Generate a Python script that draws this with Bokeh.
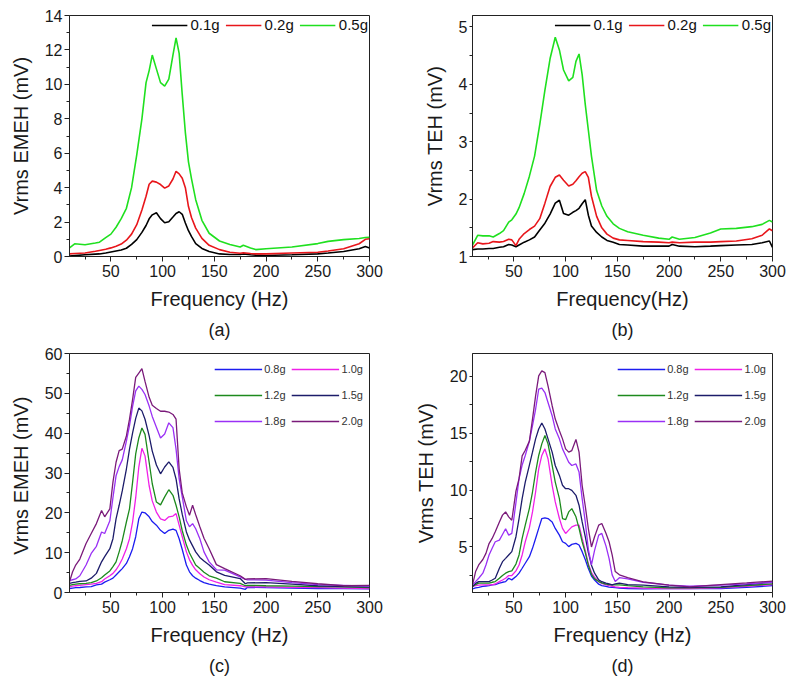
from bokeh.plotting import figure
from bokeh.layouts import column, row
from bokeh.models import FixedTicker, Range1d, Legend, LegendItem, Title
from bokeh.embed import file_html
from bokeh.resources import INLINE

FONT = "Liberation Sans"

# ---------------- data ----------------
x_ticks = [50, 100, 150, 200, 250, 300]
x_minor = [25, 75, 125, 175, 225, 275]

# (a) EMEH, low accelerations
freq_a = [10, 15, 25, 35, 39, 45, 50, 55, 60, 65, 70, 75, 80, 84, 87, 90, 94, 98, 102, 106,
          110, 113, 116, 119, 122, 125, 128, 132, 138, 145, 155, 165, 175, 178, 185, 190, 200,
          225, 250, 260, 275, 290, 296, 300]
emeh_01g = [0.02, 0.05, 0.1, 0.14, 0.15, 0.2, 0.26, 0.32, 0.38, 0.48, 0.7, 0.98, 1.4, 1.8, 2.19,
            2.42, 2.54, 2.2, 1.96, 2.02, 2.29, 2.5, 2.6, 2.45, 1.95, 1.5, 1.15, 0.75, 0.47, 0.29,
            0.15, 0.12, 0.12, 0.15, 0.1, 0.08, 0.06, 0.1, 0.15, 0.2, 0.29, 0.45, 0.58, 0.5]
emeh_02g = [0.15, 0.17, 0.2, 0.3, 0.35, 0.42, 0.5, 0.6, 0.72, 0.95, 1.3, 1.85, 2.7, 3.5, 4.2,
            4.38, 4.32, 4.18, 3.97, 4.1, 4.5, 4.95, 4.8, 4.55, 4.0, 2.9, 2.25, 1.65, 1.05, 0.65,
            0.4, 0.25, 0.19, 0.22, 0.17, 0.15, 0.15, 0.2, 0.25, 0.32, 0.45, 0.74, 1.0, 1.03]
emeh_05g = [0.5, 0.74, 0.68, 0.78, 0.83, 1.1, 1.3, 1.7, 2.2, 2.8, 4.0, 5.9, 8.0, 10.1, 10.8,
            11.7, 10.9, 10.1, 9.9, 10.3, 11.7, 12.7, 11.8, 9.4, 7.2, 5.5, 4.5, 3.3, 2.1, 1.35,
            0.9, 0.7, 0.55, 0.65, 0.5, 0.4, 0.45, 0.55, 0.75, 0.88, 0.98, 1.05, 1.1, 1.12]

# (b) TEH, low accelerations
freq_b = [10, 15, 20, 26, 30, 36, 40, 45, 48, 52, 55, 60, 65, 70, 75, 80, 85, 90, 94, 98, 103,
          107, 110, 113, 116, 119, 122, 125, 130, 135, 140, 146, 152, 160, 175, 190, 200, 203,
          210, 225, 240, 250, 265, 280, 290, 297, 300]
teh_01g = [1.12, 1.13, 1.13, 1.14, 1.14, 1.16, 1.17, 1.21, 1.2, 1.17, 1.2, 1.25, 1.29, 1.34,
           1.46, 1.58, 1.74, 1.93, 1.98, 1.75, 1.72, 1.77, 1.8, 1.84, 1.92, 1.99, 1.72, 1.53,
           1.42, 1.34, 1.28, 1.25, 1.21, 1.2, 1.18, 1.18, 1.18, 1.21, 1.18, 1.17, 1.18, 1.19,
           1.2, 1.21, 1.24, 1.27, 1.16]
teh_02g = [1.15, 1.24, 1.22, 1.23, 1.26, 1.25, 1.26, 1.3, 1.29, 1.19, 1.3, 1.4, 1.47, 1.53,
           1.66, 1.93, 2.22, 2.38, 2.42, 2.33, 2.23, 2.26, 2.32, 2.39, 2.45, 2.48, 2.38, 2.05,
           1.7, 1.5, 1.39, 1.32, 1.29, 1.28, 1.26, 1.25, 1.24, 1.25, 1.24, 1.25, 1.25, 1.26,
           1.27, 1.31, 1.37, 1.48, 1.45]
teh_05g = [1.2, 1.37, 1.36, 1.36, 1.34, 1.4, 1.45, 1.6, 1.64, 1.74, 1.85, 2.1, 2.4, 2.75, 3.3,
           3.9, 4.45, 4.82, 4.6, 4.25, 4.06, 4.12, 4.4, 4.53, 4.17, 3.65, 3.2, 2.75, 2.15, 1.88,
           1.7, 1.57, 1.49, 1.43, 1.37, 1.32, 1.3, 1.34, 1.3, 1.33, 1.41, 1.48, 1.49, 1.52,
           1.56, 1.63, 1.6]

# (c) EMEH, high accelerations
freq_c = [10, 13, 16, 20, 26, 31, 36, 41, 44, 49, 52, 55, 58, 61, 65, 68, 71, 74, 77, 80, 83,
          87, 90, 94, 98, 102, 106, 110, 113, 116, 119, 123, 126, 129, 132, 136, 140, 145, 152,
          160, 175, 180, 182, 200, 225, 250, 275, 300]
emeh_08g = [1.0, 1.1, 1.2, 1.25, 1.4, 1.5, 1.9, 2.1, 2.6, 3.2, 3.6, 4.4, 5.2, 6.0, 7.3, 9.0,
            11.0, 14.0, 18.5, 20.2, 20.0, 19.0, 17.8, 16.9, 15.6, 14.8, 15.6, 15.9, 15.6, 13.5,
            10.8, 6.9, 5.2, 4.2, 3.6, 3.0, 2.5, 2.1, 1.7, 1.4, 1.1, 0.8, 1.3, 1.2, 1.1, 1.0,
            0.95, 0.9]
emeh_10g = [1.5, 1.6, 1.7, 1.8, 2.0, 2.1, 2.3, 2.7, 3.4, 4.2, 4.8, 5.7, 6.9, 8.4, 11.0, 13.5,
            17.7, 23.8, 31.5, 36.2, 34.3, 26.8, 23.0, 20.2, 18.5, 18.1, 19.0, 19.2, 19.8, 16.9,
            14.0, 10.2, 8.2, 6.8, 5.7, 4.7, 3.9, 3.2, 2.6, 2.0, 1.7, 1.4, 1.4, 1.4, 1.3, 1.2,
            1.1, 1.0]
emeh_12g = [1.8, 2.0, 2.1, 2.2, 2.3, 2.5, 2.9, 3.7, 4.4, 5.4, 6.5, 7.7, 10.2, 13.0, 17.7, 21.0,
            27.7, 34.8, 38.8, 41.3, 39.7, 32.7, 27.3, 22.7, 22.0, 24.0, 25.8, 24.4, 21.9, 19.0,
            15.5, 11.9, 9.9, 8.4, 6.9, 6.0, 5.1, 4.2, 3.6, 2.7, 2.3, 1.7, 1.8, 1.7, 1.6, 1.5,
            1.4, 1.2]
emeh_15g = [2.3, 2.5, 2.6, 2.8, 2.9, 3.6, 4.8, 7.7, 9.0, 11.0, 13.5, 18.5, 21.9, 25.5, 31.0,
            36.0, 40.1, 43.7, 46.3, 45.6, 43.5, 39.3, 35.5, 32.0, 29.8, 31.5, 32.8, 31.4, 28.5,
            23.5, 19.6, 15.2, 13.2, 11.7, 10.2, 8.8, 7.9, 6.9, 5.2, 4.3, 3.5, 2.2, 2.4, 2.5,
            2.1, 1.7, 1.5, 1.4]
emeh_18g = [3.0, 3.2, 3.4, 4.2, 6.9, 9.8, 11.6, 15.2, 14.8, 18.0, 23.8, 29.3, 31.6, 33.3, 38.0,
            41.9, 46.7, 50.6, 51.8, 51.0, 49.7, 46.8, 44.2, 41.5, 38.8, 39.8, 42.6, 41.4, 36.0,
            28.5, 24.0, 18.0, 16.5, 17.3, 16.0, 13.5, 10.2, 7.7, 5.7, 5.6, 3.9, 3.3, 3.2, 3.1,
            2.5, 2.0, 1.8, 1.6]
emeh_20g = [2.7, 5.2, 6.9, 8.4, 12.3, 14.8, 17.3, 20.6, 19.0, 21.0, 27.7, 32.7, 35.6, 36.0, 39.3,
            43.5, 48.5, 54.0, 55.1, 56.2, 53.0, 49.0, 47.0, 46.2, 45.5, 45.5, 45.3, 44.7, 43.5,
            31.0, 25.0, 21.5, 19.4, 21.9, 19.5, 16.5, 13.6, 11.0, 7.0, 6.0, 4.2, 3.3, 3.4, 3.5,
            2.8, 2.2, 1.7, 1.8]

# (d) TEH, high accelerations
freq_d = [10, 13, 16, 20, 23, 26, 29, 32, 36, 39, 42, 45, 48, 52, 55, 58, 61, 65, 68, 71, 74, 77,
          80, 83, 87, 90, 94, 97, 100, 103, 106, 110, 113, 116, 119, 122, 125, 128, 132, 135,
          139, 142, 145, 148, 152, 160, 175, 200, 220, 250, 275, 300]
teh_08g = [1.32, 1.4, 1.45, 1.53, 1.57, 1.6, 1.67, 1.7, 1.82, 1.9, 1.96, 2.25, 2.11, 2.4, 2.7,
           3.13, 3.57, 4.15, 4.88, 5.75, 6.63, 7.5, 7.56, 7.5, 7.2, 6.63, 6.04, 5.46, 5.32, 5.03,
           5.23, 5.32, 5.17, 4.59, 3.9, 3.1, 2.45, 2.1, 1.73, 1.6, 1.53, 1.48, 1.45, 1.42, 1.38,
           1.35, 1.32, 1.35, 1.35, 1.35, 1.45, 1.6]
teh_10g = [1.53, 1.6, 1.65, 1.67, 1.67, 1.67, 1.67, 1.75, 1.96, 2.1, 2.25, 2.49, 2.49, 2.9, 3.42,
           4.3, 5.46, 6.7, 8.08, 9.83, 11.87, 13.04, 13.62, 12.75, 10.42, 8.96, 7.5, 6.63, 6.19,
           6.48, 6.77, 6.92, 6.92, 5.75, 4.7, 3.5, 2.75, 2.35, 1.96, 1.8, 1.67, 1.6, 1.55, 1.5,
           1.45, 1.42, 1.38, 1.35, 1.35, 1.4, 1.55, 1.7]
teh_12g = [1.53, 1.7, 1.82, 1.82, 1.82, 1.82, 1.9, 1.96, 2.25, 2.5, 2.7, 2.84, 2.9, 3.5, 4.3,
           5.75, 6.92, 8.4, 9.83, 11.58, 13.04, 14.06, 14.8, 14.06, 12.16, 10.7, 9.25, 7.5, 7.4,
           8.08, 8.37, 7.65, 6.63, 5.46, 4.5, 3.4, 2.6, 2.2, 1.96, 1.85, 1.73, 1.7, 1.68, 1.67,
           1.67, 1.6, 1.5, 1.4, 1.4, 1.45, 1.6, 1.75]
teh_15g = [1.53, 1.8, 1.96, 1.96, 1.96, 1.96, 2.1, 2.25, 3.13, 3.71, 4.0, 4.3, 4.59, 5.9, 7.5,
           9.25, 10.7, 12.2, 13.33, 14.5, 15.37, 15.9, 15.37, 14.5, 13.33, 12.16, 11.29, 10.42,
           10.12, 10.12, 9.98, 9.54, 8.67, 7.2, 5.9, 4.5, 3.4, 2.7, 2.11, 1.95, 1.82, 1.75, 1.67,
           1.75, 1.82, 1.7, 1.64, 1.5, 1.45, 1.5, 1.7, 1.9]
teh_18g = [1.67, 1.96, 2.25, 2.7, 3.42, 4.3, 4.88, 5.46, 5.6, 6.1, 6.6, 6.04, 6.19, 8.9, 11.0,
           12.2, 13.04, 14.3, 15.66, 17.1, 18.86, 18.95, 18.57, 17.7, 16.53, 15.37, 14.5, 13.62,
           13.04, 12.45, 12.16, 12.3, 11.58, 9.25, 7.2, 4.8, 3.42, 4.7, 6.04, 6.19, 5.1, 4.0,
           2.55, 1.96, 2.3, 2.2, 1.9, 1.64, 1.55, 1.64, 1.75, 1.9]
teh_20g = [1.67, 2.84, 3.42, 3.9, 4.44, 5.3, 5.75, 6.33, 7.2, 7.8, 8.08, 7.65, 7.35, 9.9, 11.0,
           13.0, 13.5, 14.3, 16.24, 18.28, 20.03, 20.47, 20.32, 19.16, 17.41, 16.24, 15.22, 14.5,
           13.62, 13.33, 13.47, 14.45, 13.33, 10.4, 8.6, 6.6, 5.0, 5.9, 6.92, 7.06, 6.2, 5.46,
           4.3, 2.84, 2.55, 2.3, 1.94, 1.64, 1.5, 1.7, 1.84, 2.0]

labels_low = ["0.1g", "0.2g", "0.5g"]
colors_low = ["#000000", "#e8161b", "#1fe01f"]
labels_high = ["0.8g", "1.0g", "1.2g", "1.5g", "1.8g", "2.0g"]
colors_high = ["#1c1cf0", "#f020e8", "#1d8a1d", "#1c1c6a", "#9a30f5", "#7a1a7a"]


def make_panel(width, height, borders, yrange, yticks, yminor, ylabel, xlabel, tag,
               freq, series, labels, colors, small_legend, lw, ytick_out=5):
    left, right, top, bottom = borders
    p = figure(width=width, height=height, output_backend="svg", toolbar_location=None,
               x_range=Range1d(10, 300), y_range=Range1d(*yrange),
               min_border_left=left, min_border_right=right,
               min_border_top=top, min_border_bottom=bottom)
    p.background_fill_color = "white"
    p.border_fill_color = "white"
    p.outline_line_color = "#222222"
    p.outline_line_width = 1
    p.xgrid.visible = False
    p.ygrid.visible = False

    p.xaxis.ticker = FixedTicker(ticks=x_ticks, minor_ticks=x_minor)
    p.yaxis.ticker = FixedTicker(ticks=yticks, minor_ticks=yminor)
    for ax in (p.xaxis[0], p.yaxis[0]):
        ax.axis_line_color = "#222222"
        ax.major_tick_line_color = "#222222"
        ax.minor_tick_line_color = "#222222"
        ax.major_tick_in = 0
        ax.minor_tick_in = 0
        ax.major_tick_out = 5
        ax.minor_tick_out = 3
        ax.major_label_text_font = FONT
        ax.major_label_text_font_size = "16px"
        ax.major_label_text_color = "#1a1a1a"
        ax.axis_label_text_font = FONT
        ax.axis_label_text_font_size = "20px"
        ax.axis_label_text_font_style = "normal"
        ax.axis_label_text_color = "#1a1a1a"
    p.yaxis[0].major_tick_out = ytick_out
    p.yaxis[0].major_label_standoff = 2
    p.xaxis[0].major_label_standoff = 3
    p.yaxis.axis_label = ylabel
    p.xaxis.axis_label = xlabel
    p.yaxis.axis_label_standoff = 10
    p.xaxis.axis_label_standoff = 8

    items = []
    for vals, lab, col in zip(series, labels, colors):
        r = p.line(freq, vals, line_color=col, line_width=lw)
        items.append(LegendItem(label=lab, renderers=[r]))

    if small_legend:
        leg = Legend(items=items, location="top_right", orientation="horizontal", ncols=2,
                     glyph_width=48, glyph_height=20, label_standoff=2, spacing=6,
                     padding=3, margin=3, border_line_alpha=0, background_fill_alpha=0,
                     label_text_font=FONT, label_text_font_size="11px",
                     label_text_color="#333333")
    else:
        leg = Legend(items=items, location="top_right", orientation="horizontal",
                     glyph_width=36, glyph_height=16, label_standoff=3, spacing=6,
                     padding=0, margin=1, border_line_alpha=0, background_fill_alpha=0,
                     label_text_font=FONT, label_text_font_size="15px",
                     label_text_color="#111111")
    p.add_layout(leg)

    t = Title(text=tag, align="center", text_font=FONT, text_font_size="18px",
              text_font_style="normal", text_color="#1a1a1a", standoff=10)
    p.add_layout(t, "below")
    return p


H1 = 345
H2 = 335
pa = make_panel(398, H1, (69, 29, 15, H1 - 256), (0, 14), list(range(0, 15, 2)),
                list(range(1, 14, 2)), "Vrms EMEH (mV)", "Frequency (Hz)", "(a)",
                freq_a, [emeh_01g, emeh_02g, emeh_05g], labels_low, colors_low, False, 1.6)
pb = make_panel(388, H1, (74, 14, 15, H1 - 256), (1, 5.2), [1, 2, 3, 4, 5],
                [1.5, 2.5, 3.5, 4.5], "Vrms TEH (mV)", "Frequency(Hz)", "(b)",
                freq_b, [teh_01g, teh_02g, teh_05g], labels_low, colors_low, False, 1.6,
                ytick_out=3)
pc = make_panel(398, H2, (69, 29, 8, H2 - 249), (0, 60), list(range(0, 61, 10)),
                list(range(5, 56, 10)), "Vrms  EMEH (mV)", "Frequency (Hz)", "(c)",
                freq_c, [emeh_08g, emeh_10g, emeh_12g, emeh_15g, emeh_18g, emeh_20g],
                labels_high, colors_high, True, 1.3)
pd_ = make_panel(388, H2, (74, 14, 8, H2 - 249), (1, 22), [5, 10, 15, 20],
                 [2.5, 7.5, 12.5, 17.5], "Vrms TEH (mV)", "Frequency (Hz)", "(d)",
                 freq_d, [teh_08g, teh_10g, teh_12g, teh_15g, teh_18g, teh_20g],
                 labels_high, colors_high, True, 1.3, ytick_out=3)

layout = column(row(pa, pb), row(pc, pd_))
open("out.html", "w").write(file_html(layout, INLINE))
